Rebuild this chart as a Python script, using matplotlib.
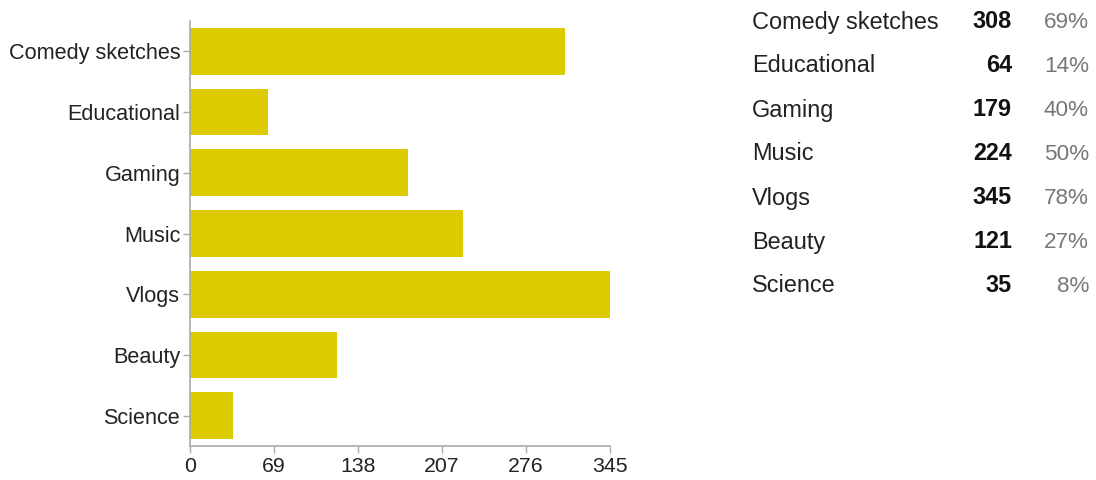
import matplotlib
matplotlib.use("Agg")
import matplotlib.pyplot as plt

categories = ["Comedy sketches", "Educational", "Gaming", "Music", "Vlogs", "Beauty", "Science"]
counts = [308, 64, 179, 224, 345, 121, 35]
percents = ["69%", "14%", "40%", "50%", "78%", "27%", "8%"]
xticks = [0, 69, 138, 207, 276, 345]

plt.rcParams["font.family"] = ["Liberation Sans", "DejaVu Sans"]

fig = plt.figure(figsize=(10.96, 4.8), dpi=100)
ax = fig.add_axes([190 / 1096, 1 - 446 / 480, 420 / 1096, 425 / 480])

ypos = list(range(len(categories)))
ax.barh(ypos, counts, height=0.77, color="#dccb00", edgecolor="none")
ax.set_ylim(len(categories) - 0.5, -0.5)
ax.set_xlim(0, 345)

ax.set_yticks(ypos)
ax.set_yticklabels(categories, fontsize=15.6, color="#222222")
ax.set_xticks(xticks)
ax.set_xticklabels([str(t) for t in xticks], fontsize=15.3, color="#222222")

for side in ("top", "right"):
    ax.spines[side].set_visible(False)
for side in ("left", "bottom"):
    ax.spines[side].set_color("#aaaaaa")
    ax.spines[side].set_linewidth(1.2)
ax.tick_params(axis="both", colors="#aaaaaa", length=5, width=1, labelcolor="#222222")
ax.tick_params(axis="y", pad=2)
ax.tick_params(axis="x", pad=3)

# Summary table to the right of the chart
row_y0 = 22
row_step = 44
for i, (name, c, p) in enumerate(zip(categories, counts, percents)):
    y = 1 - (row_y0 + i * row_step) / 480
    fig.text(752 / 1096, y, name, fontsize=16.9, color="#222222", ha="left", va="center")
    fig.text(1012 / 1096, y, str(c), fontsize=16.8, color="#111111", weight="bold", ha="right", va="center")
    fig.text(1089 / 1096, y, p, fontsize=16.2, color="#777777", ha="right", va="center")

fig.savefig("out.png", dpi=100)
